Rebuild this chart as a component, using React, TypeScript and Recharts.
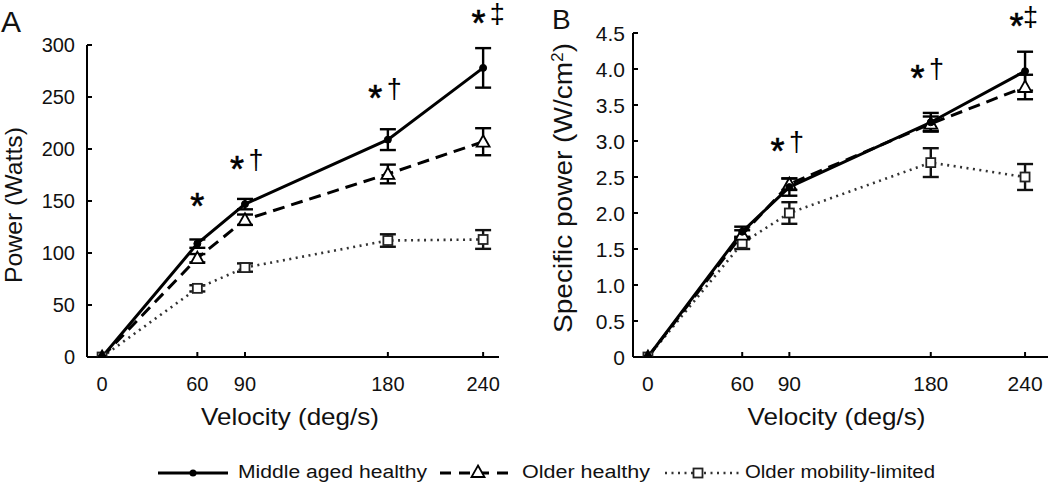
import { LineChart, Line, XAxis, YAxis, ErrorBar, ReferenceDot, Label } from 'recharts';

const FONT = '"Liberation Sans", Arial, Helvetica, sans-serif';

// velocity categories (deg/s)
const velocities = [0, 60, 90, 180, 240];

// panel A: power (Watts)
const powerMiddle = [0, 109, 147, 209, 278];
const powerMiddleErr = [0, 4, 5, 10, 19];
const powerOlder = [0, 95, 132, 176, 207];
const powerOlderErr = [0, 4, 5, 9, 13];
const powerLimited = [0, 66, 86, 112, 113];
const powerLimitedErr = [0, 3, 4, 6, 9];
const powerTicks = [0, 50, 100, 150, 200, 250, 300];

// panel B: specific power (W/cm2)
const specMiddle = [0, 1.74, 2.36, 3.26, 3.97];
const specMiddleErr = [0, 0.07, 0.12, 0.13, 0.27];
const specOlder = [0, 1.7, 2.4, 3.24, 3.75];
const specOlderErr = [0, 0.06, 0.08, 0.1, 0.17];
const specLimited = [0, 1.58, 2.0, 2.7, 2.5];
const specLimitedErr = [0, 0.08, 0.15, 0.2, 0.18];
const specTicks = [0, 0.5, 1, 1.5, 2, 2.5, 3, 3.5, 4, 4.5];

// significance markers
const notesA = [
  { v: 60, y: 153, text: '*' },
  { v: 91, y: 188, text: '*†' },
  { v: 178, y: 257, text: '*†' },
  { v: 243, y: 329, text: '*‡' },
];
const notesB = [
  { v: 88.5, y: 2.97, text: '*†' },
  { v: 177.6, y: 3.99, text: '*†' },
  { v: 239, y: 4.71, text: '*‡', gap: 14 },
];

const buildRows = (mid: number[], midErr: number[], old: number[], oldErr: number[], lim: number[], limErr: number[]) =>
  velocities.map((v, i) => ({
    v,
    mid: mid[i],
    midErr: midErr[i],
    old: old[i],
    oldErr: oldErr[i],
    lim: lim[i],
    limErr: limErr[i],
  }));

const rowsA = buildRows(powerMiddle, powerMiddleErr, powerOlder, powerOlderErr, powerLimited, powerLimitedErr);
const rowsB = buildRows(specMiddle, specMiddleErr, specOlder, specOlderErr, specLimited, specLimitedErr);

function Triangle({ cx, cy }: { cx: number; cy: number }) {
  return (
    <path
      d={`M${cx},${cy - 6.5} L${cx + 6.5},${cy + 5} L${cx - 6.5},${cy + 5} Z`}
      fill="#fff"
      stroke="#000"
      strokeWidth={1.8}
    />
  );
}

function Square({ cx, cy }: { cx: number; cy: number }) {
  return <rect x={cx - 4.5} y={cy - 4.5} width={9} height={9} fill="#fff" stroke="#222" strokeWidth={1.8} />;
}

function Note({ cx, cy, text, gap = 19 }: { cx: number; cy: number; text: string; gap?: number }) {
  if (text.length === 1) {
    return (
      <text x={cx} y={cy + 21} textAnchor="middle" fontFamily={FONT} fontSize={36} stroke="#000" strokeWidth={0.6}>
        *
      </text>
    );
  }
  return (
    <g fontFamily={FONT}>
      <text x={cx - gap / 2} y={cy + 21} textAnchor="middle" fontSize={36} stroke="#000" strokeWidth={0.6}>
        *
      </text>
      <text x={cx + gap / 2} y={cy + 8} textAnchor="middle" fontSize={27}>
        {text.slice(1)}
      </text>
    </g>
  );
}

function XTick(props: any) {
  const { x, y, payload, font } = props;
  return (
    <g>
      <line x1={x} y1={y} x2={x} y2={y - 5} stroke="#000" strokeWidth={2} />
      <text x={x} y={y + 34} textAnchor="middle" fontFamily={FONT} fontSize={font} fill="#111">
        {payload.value}
      </text>
    </g>
  );
}

function YTick(props: any) {
  const { x, y, payload, font, gap, fmt } = props;
  return (
    <g>
      <line x1={x} y1={y} x2={x + 5} y2={y} stroke="#000" strokeWidth={2} />
      <text x={x - gap} y={y + font * 0.36} textAnchor="end" fontFamily={FONT} fontSize={font} fill="#111">
        {fmt(payload.value)}
      </text>
    </g>
  );
}

interface PanelProps {
  width: number;
  rows: typeof rowsA;
  xDomain: [number, number];
  yDomain: [number, number];
  yTicks: number[];
  fmt: (v: number) => string;
  yAxisWidth: number;
  marginTop: number;
  marginRight: number;
  tickFont: number;
  yTickGap: number;
  yTitle: React.ReactNode;
  yTitleX: number;
  yTitleY: number;
  yTitleFont: number;
  yTitleLen: number;
  xTitleShift: number;
  notes: { v: number; y: number; text: string; gap?: number }[];
}

const HEIGHT = 440;
const PLOT_BOTTOM = 357;
const XAXIS_H = 40;

function Panel(p: PanelProps) {
  return (
    <LineChart
      width={p.width}
      height={HEIGHT}
      data={p.rows}
      margin={{ top: p.marginTop, right: p.marginRight, left: 0, bottom: HEIGHT - PLOT_BOTTOM - XAXIS_H }}
    >
      <XAxis
        type="number"
        dataKey="v"
        domain={p.xDomain}
        ticks={velocities}
        interval={0}
        allowDataOverflow
        height={XAXIS_H}
        tickLine={false}
        tickSize={0}
        tickMargin={0}
        axisLine={{ stroke: '#000', strokeWidth: 2 }}
        tick={<XTick font={p.tickFont} />}
      >
        <Label
          content={(lp: any) => {
            const vb = lp.viewBox;
            return (
              <text
                x={vb.x + vb.width / 2 + p.xTitleShift}
                y={vb.y + 68}
                textAnchor="middle"
                fontFamily={FONT}
                fontSize={24}
                textLength={178}
                lengthAdjust="spacingAndGlyphs"
                fill="#111"
              >
                Velocity (deg/s)
              </text>
            );
          }}
        />
      </XAxis>
      <YAxis
        type="number"
        domain={p.yDomain}
        ticks={p.yTicks}
        interval={0}
        allowDataOverflow
        width={p.yAxisWidth}
        tickLine={false}
        tickSize={0}
        tickMargin={0}
        axisLine={{ stroke: '#000', strokeWidth: 2 }}
        tick={<YTick font={p.tickFont} gap={p.yTickGap} fmt={p.fmt} />}
      >
        <Label
          content={() => (
            <text
              x={p.yTitleX}
              y={p.yTitleY}
              transform={`rotate(-90, ${p.yTitleX}, ${p.yTitleY})`}
              textAnchor="middle"
              fontFamily={FONT}
              fontSize={p.yTitleFont}
              textLength={p.yTitleLen}
              lengthAdjust="spacingAndGlyphs"
              fill="#111"
            >
              {p.yTitle}
            </text>
          )}
        />
      </YAxis>
      <Line
        dataKey="lim"
        stroke="#333"
        strokeWidth={2.6}
        strokeDasharray="2 4.5"
        isAnimationActive={false}
        dot={(d: any) => <Square key={`s${d.index}`} cx={d.cx} cy={d.cy} />}
        activeDot={false}
      >
        <ErrorBar dataKey="limErr" direction="y" width={8} stroke="#111" strokeWidth={2.4} />
      </Line>
      <Line
        dataKey="old"
        stroke="#000"
        strokeWidth={3}
        strokeDasharray="12 7"
        isAnimationActive={false}
        dot={(d: any) => <Triangle key={`t${d.index}`} cx={d.cx} cy={d.cy} />}
        activeDot={false}
      >
        <ErrorBar dataKey="oldErr" direction="y" width={8} stroke="#000" strokeWidth={2.4} />
      </Line>
      <Line
        dataKey="mid"
        stroke="#000"
        strokeWidth={3}
        isAnimationActive={false}
        dot={{ r: 3.5, fill: '#000', stroke: '#000', strokeWidth: 1 }}
        activeDot={false}
      >
        <ErrorBar dataKey="midErr" direction="y" width={8} stroke="#000" strokeWidth={2.4} />
      </Line>
      {p.notes.map((n, i) => (
        <ReferenceDot
          key={i}
          x={n.v}
          y={n.y}
          r={0}
          ifOverflow="visible"
          shape={(sp: any) => <Note cx={sp.cx} cy={sp.cy} text={n.text} gap={n.gap} />}
        />
      ))}
    </LineChart>
  );
}

export default function App() {
  return (
    <div style={{ position: 'absolute', left: 0, top: 0, width: 1050, height: 483, background: '#fff', fontFamily: FONT }}>
      <div style={{ position: 'absolute', left: 0, top: 0 }}>
        <Panel
          width={520}
          rows={rowsA}
          xDomain={[-9.5, 250]}
          yDomain={[0, 300]}
          yTicks={powerTicks}
          fmt={(v) => String(v)}
          yAxisWidth={87}
          marginTop={45}
          marginRight={21}
          tickFont={20}
          yTickGap={12}
          yTitle="Power (Watts)"
          yTitleX={22}
          yTitleY={205}
          yTitleFont={24}
          yTitleLen={156}
          xTitleShift={-3}
          notes={notesA}
        />
      </div>
      <div style={{ position: 'absolute', left: 520, top: 0 }}>
        <Panel
          width={530}
          rows={rowsB}
          xDomain={[-9.5, 254.6]}
          yDomain={[0, 4.5]}
          yTicks={specTicks}
          fmt={(v) => (v === 0 ? '0' : v.toFixed(1))}
          yAxisWidth={113}
          marginTop={33}
          marginRight={2}
          tickFont={21}
          yTickGap={8}
          yTitle={
            <>
              Specific power (W/cm<tspan dy={-9} fontSize={16}>2</tspan>
              <tspan dy={9}>)</tspan>
            </>
          }
          yTitleX={52}
          yTitleY={188}
          yTitleFont={26}
          yTitleLen={290}
          xTitleShift={-4}
          notes={notesB}
        />
      </div>
      <svg width={1050} height={483} style={{ position: 'absolute', left: 0, top: 0, pointerEvents: 'none' }}>
        <text x={1} y={32} fontFamily={FONT} fontSize={30} fill="#111">A</text>
        <text x={552} y={29} fontFamily={FONT} fontSize={28} fill="#111">B</text>
        <g fontFamily={FONT} fontSize={18} fill="#111">
          <line x1={158} y1={473} x2={228} y2={473} stroke="#000" strokeWidth={3} />
          <circle cx={193} cy={473} r={3.5} fill="#000" />
          <text x={238} y={478} textLength={189} lengthAdjust="spacingAndGlyphs">Middle aged  healthy</text>
          <line x1={440} y1={473} x2={513} y2={473} stroke="#000" strokeWidth={3} strokeDasharray="11 8" />
          <Triangle cx={478} cy={472} />
          <text x={522} y={478} textLength={128} lengthAdjust="spacingAndGlyphs">Older  healthy</text>
          <line x1={665} y1={473} x2={740} y2={473} stroke="#333" strokeWidth={2.6} strokeDasharray="2 4.5" />
          <Square cx={698} cy={473} />
          <text x={745} y={478} textLength={190} lengthAdjust="spacingAndGlyphs">Older mobility-limited</text>
        </g>
      </svg>
    </div>
  );
}
